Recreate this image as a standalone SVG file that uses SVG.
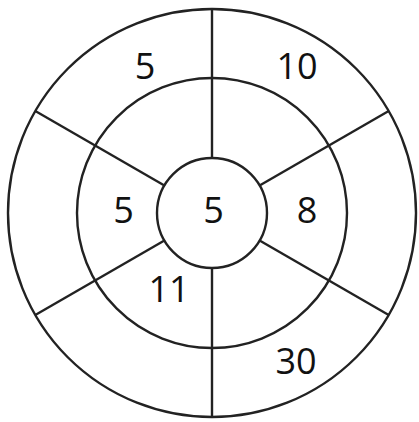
<svg xmlns="http://www.w3.org/2000/svg" width="419" height="422" viewBox="0 0 419 422">
<style>
.ring{fill:none;stroke:#222;stroke-width:2.4}
.spoke{stroke:#222;stroke-width:2.4}
.lbl{font-family:"Open Sans","Liberation Sans",sans-serif;font-size:36px;fill:#111;text-anchor:middle}
</style>
<rect width="419" height="422" fill="#fff"/>
<g id="connectors">
<line class="spoke" x1="212" y1="9" x2="212" y2="158"/>
<line class="spoke" x1="212" y1="268" x2="212" y2="417"/>
<line class="spoke" x1="35.3" y1="111" x2="164.4" y2="185.5"/>
<line class="spoke" x1="388.7" y1="111" x2="259.6" y2="185.5"/>
<line class="spoke" x1="35.3" y1="315" x2="164.4" y2="240.5"/>
<line class="spoke" x1="388.7" y1="315" x2="259.6" y2="240.5"/>
</g>
<g id="outer"><circle class="ring" cx="212" cy="213" r="204"/></g>
<g id="middle"><circle class="ring" cx="212" cy="213" r="135"/></g>
<g id="inner"><circle class="ring" cx="212" cy="213" r="55"/><text class="lbl" x="213.5" y="223">5</text></g>
<g id="seg-top-left"><text class="lbl" x="145" y="79">5</text></g>
<g id="seg-top-right"><text class="lbl" x="297" y="79">10</text></g>
<g id="seg-left"><text class="lbl" x="123.5" y="223">5</text></g>
<g id="seg-right"><text class="lbl" x="307" y="223">8</text></g>
<g id="seg-bottom-left"><text class="lbl" x="169" y="302">11</text></g>
<g id="seg-bottom-right"><text class="lbl" x="296" y="374">30</text></g>
</svg>
